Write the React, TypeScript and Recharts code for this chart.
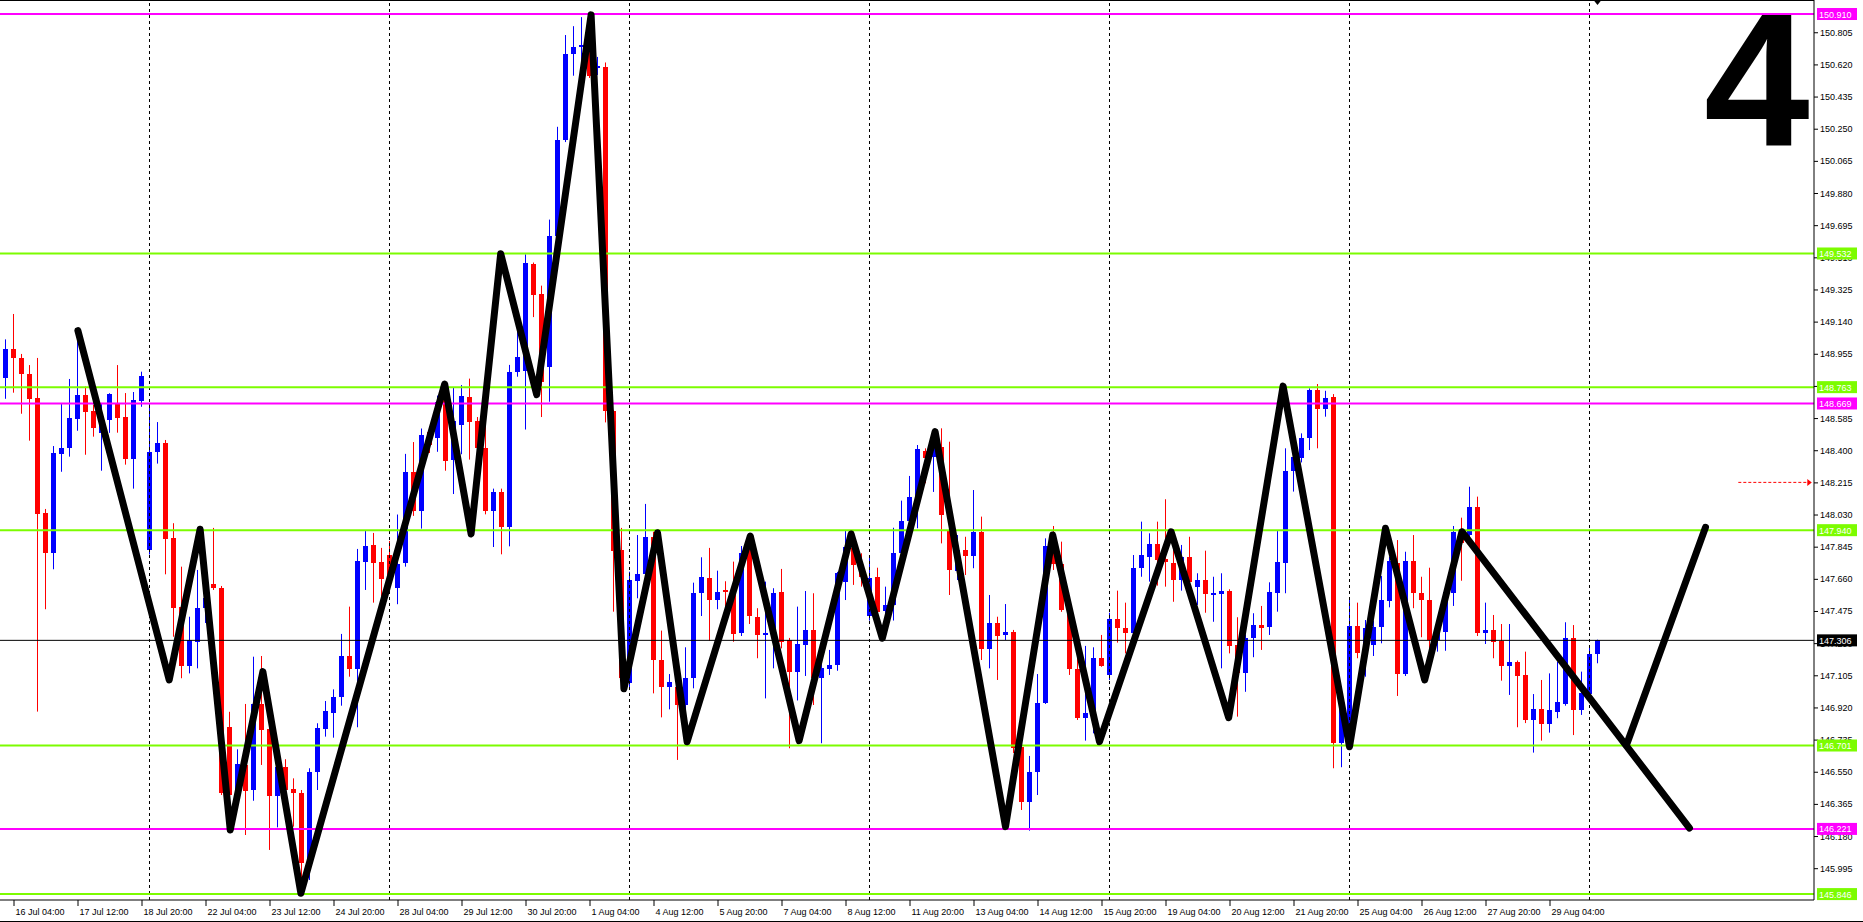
import React from 'react';
import { ComposedChart, Bar, Line, XAxis, YAxis, ReferenceLine, ReferenceDot } from 'recharts';

// H4 candles, bar 0 = 16 Jul 00:00
const OPEN = [
  148.817, 148.981, 148.929, 148.839, 148.700, 148.039, 147.807, 148.380, 148.415, 148.582,
  148.718, 148.627, 148.500, 148.574, 148.670, 148.591, 148.352, 148.685, 147.822, 148.390,
  148.442, 147.897, 147.500, 147.160, 147.298, 147.492, 147.630, 147.607, 146.809, 146.445,
  146.589, 146.441, 146.940, 146.794, 146.410, 146.576, 146.449, 146.426, 146.023, 146.546,
  146.794, 146.890, 146.978, 147.216, 147.143, 147.757, 147.852, 147.757, 147.797, 147.609,
  147.749, 148.275, 148.048, 148.505, 148.473, 148.730, 148.340, 148.545, 148.706, 148.566,
  148.412, 148.052, 148.159, 147.959, 148.850, 148.856, 149.474, 149.300, 148.880, 149.630,
  150.183, 150.678, 150.717, 150.720, 150.599, 150.606, 148.627, 147.826, 147.059, 147.649,
  147.688, 147.902, 147.193, 147.034, 147.039, 146.934, 147.088, 147.577, 147.663, 147.538,
  147.596, 147.615, 147.346, 147.836, 147.442, 147.341, 147.346, 147.586, 147.308, 147.126,
  147.279, 147.366, 147.088, 147.140, 147.164, 147.644, 147.836, 147.730, 147.442, 147.672,
  147.477, 147.510, 147.810, 147.995, 148.133, 148.397, 148.359, 148.420, 147.941, 147.707,
  147.826, 147.793, 147.929, 147.256, 147.408, 147.337, 147.354, 146.694, 146.378, 146.547,
  146.944, 147.883, 147.745, 147.481, 147.140, 146.858, 146.887, 147.203, 147.107, 147.427,
  147.375, 147.346, 147.721, 147.788, 147.860, 147.772, 147.753, 147.657, 147.788, 147.615,
  147.653, 147.571, 147.571, 147.588, 147.279, 147.116, 147.318, 147.394, 147.379, 147.580,
  147.753, 148.276, 148.353, 148.469, 148.747, 148.636, 148.705, 146.714, 146.714, 147.389,
  147.231, 147.279, 147.381, 147.534, 147.753, 147.112, 147.763, 147.580, 147.538, 147.312,
  147.356, 147.580, 147.941, 147.912, 148.075, 147.350, 147.366, 147.304, 147.158, 147.182,
  147.107, 146.848, 146.909, 146.825, 146.896, 146.944, 147.321, 146.905, 146.997, 147.227,
];
const HIGH = [
  149.038, 149.184, 148.954, 148.890, 148.931, 148.062, 148.424, 148.670, 148.810, 149.088,
  148.766, 148.660, 148.670, 148.728, 148.890, 148.729, 148.735, 148.852, 148.670, 148.562,
  148.459, 147.980, 147.730, 147.442, 147.711, 147.596, 147.953, 147.619, 146.895, 146.679,
  146.940, 147.212, 147.216, 146.800, 146.600, 146.622, 146.512, 146.445, 146.570, 146.829,
  146.957, 147.024, 147.343, 147.500, 147.832, 147.935, 147.924, 147.838, 147.878, 148.030,
  148.379, 148.447, 148.525, 148.528, 148.714, 148.771, 148.761, 148.775, 148.812, 148.591,
  148.576, 148.179, 148.179, 148.891, 149.080, 149.527, 149.480, 149.347, 149.727, 150.261,
  150.789, 150.840, 150.892, 150.910, 150.663, 150.631, 148.632, 147.953, 147.701, 147.912,
  148.091, 147.931, 147.362, 147.112, 147.060, 147.266, 147.638, 147.784, 147.838, 147.707,
  147.646, 147.759, 147.849, 147.912, 147.491, 147.644, 147.606, 147.717, 147.320, 147.500,
  147.590, 147.577, 147.170, 147.251, 147.700, 147.941, 147.931, 147.807, 147.784, 147.724,
  147.615, 147.954, 148.110, 148.252, 148.430, 148.411, 148.511, 148.526, 148.449, 147.912,
  147.902, 148.171, 148.018, 147.567, 147.442, 147.515, 147.366, 146.700, 146.641, 147.112,
  147.893, 147.964, 147.874, 147.500, 147.250, 147.274, 147.266, 147.337, 147.465, 147.592,
  147.523, 147.797, 147.989, 147.922, 147.989, 148.118, 147.940, 147.855, 147.902, 147.692,
  147.822, 147.672, 147.692, 147.600, 147.439, 147.340, 147.462, 147.504, 147.640, 147.935,
  148.411, 148.459, 148.497, 148.756, 148.781, 148.742, 148.723, 146.950, 147.538, 147.523,
  147.423, 147.420, 147.676, 147.787, 147.883, 147.816, 147.912, 147.672, 147.724, 147.420,
  147.620, 147.964, 148.012, 148.190, 148.133, 147.523, 147.452, 147.400, 147.400, 147.190,
  147.241, 146.997, 147.078, 147.116, 147.183, 147.410, 147.394, 147.126, 147.266, 147.310,
];
const LOW = [
  148.696, 148.731, 148.610, 148.455, 146.896, 147.485, 147.715, 148.276, 148.363, 148.512,
  148.374, 148.478, 148.282, 148.500, 148.501, 148.317, 148.179, 148.650, 147.800, 148.323,
  147.686, 147.327, 147.088, 147.116, 147.145, 147.406, 147.596, 146.416, 146.215, 146.349,
  146.186, 146.383, 146.589, 146.100, 146.230, 146.430, 146.234, 145.851, 145.927, 146.445,
  146.752, 146.746, 146.930, 147.097, 146.806, 147.596, 147.523, 147.557, 147.625, 147.514,
  147.730, 148.022, 147.949, 148.384, 148.391, 148.282, 148.148, 148.377, 148.346, 148.320,
  148.031, 147.843, 147.801, 147.847, 148.823, 148.519, 149.166, 148.591, 148.679, 149.600,
  150.173, 150.555, 150.600, 150.542, 150.559, 148.560, 147.471, 147.032, 147.020, 147.548,
  147.670, 147.001, 146.863, 146.909, 146.618, 146.715, 147.030, 147.446, 147.304, 147.485,
  147.500, 147.298, 147.331, 147.400, 147.203, 146.972, 147.145, 147.260, 146.685, 146.960,
  147.101, 146.934, 146.714, 147.107, 147.131, 147.538, 147.625, 147.615, 147.420, 147.423,
  147.327, 147.420, 147.768, 147.931, 147.951, 148.210, 148.160, 147.864, 147.567, 147.653,
  147.682, 147.721, 147.193, 147.145, 147.078, 147.308, 146.658, 146.330, 146.211, 146.416,
  146.940, 147.711, 147.470, 147.107, 146.848, 146.729, 146.771, 147.154, 147.078, 147.293,
  147.231, 147.327, 147.672, 147.644, 147.621, 147.615, 147.528, 147.592, 147.635, 147.510,
  147.465, 147.413, 147.145, 147.231, 146.867, 147.010, 147.209, 147.251, 147.337, 147.471,
  147.577, 148.162, 148.330, 148.401, 148.411, 148.593, 146.570, 146.576, 146.685, 147.203,
  147.097, 147.216, 147.289, 147.496, 146.986, 147.101, 147.491, 147.324, 147.212, 147.241,
  147.246, 147.504, 147.649, 147.880, 147.331, 147.285, 147.203, 147.074, 146.992, 146.806,
  146.830, 146.660, 146.729, 146.775, 146.858, 146.930, 146.761, 146.877, 146.980, 147.174,
];
const CLOSE = [
  148.981, 148.927, 148.835, 148.696, 148.035, 147.807, 148.382, 148.413, 148.585, 148.718,
  148.622, 148.530, 148.580, 148.722, 148.582, 148.352, 148.689, 148.827, 148.388, 148.442,
  147.891, 147.496, 147.160, 147.308, 147.491, 147.550, 147.609, 146.426, 146.416, 146.595,
  146.441, 146.938, 146.790, 146.410, 146.576, 146.441, 146.426, 146.023, 146.548, 146.800,
  146.899, 146.980, 147.216, 147.143, 147.763, 147.851, 147.751, 147.658, 147.682, 147.745,
  148.275, 148.048, 148.488, 148.430, 148.679, 148.340, 148.566, 148.710, 148.560, 148.412,
  148.052, 148.159, 147.959, 148.850, 148.936, 149.480, 149.296, 148.793, 149.634, 150.185,
  150.678, 150.720, 150.729, 150.553, 150.611, 148.627, 147.822, 147.090, 147.653, 147.688,
  147.902, 147.193, 147.039, 147.065, 146.934, 147.088, 147.577, 147.669, 147.538, 147.586,
  147.586, 147.346, 147.807, 147.442, 147.337, 147.350, 147.580, 147.298, 147.126, 147.285,
  147.366, 147.088, 147.145, 147.164, 147.692, 147.845, 147.740, 147.672, 147.663, 147.471,
  147.510, 147.810, 147.995, 148.133, 148.405, 148.359, 148.413, 148.027, 147.711, 147.826,
  147.793, 147.929, 147.256, 147.408, 147.331, 147.354, 146.685, 146.378, 146.550, 146.944,
  147.849, 147.745, 147.481, 147.140, 146.858, 146.887, 147.203, 147.158, 147.427, 147.375,
  147.346, 147.721, 147.797, 147.860, 147.768, 147.753, 147.657, 147.788, 147.644, 147.653,
  147.571, 147.580, 147.588, 147.274, 147.116, 147.318, 147.394, 147.379, 147.582, 147.759,
  148.280, 148.359, 148.469, 148.747, 148.636, 148.699, 146.714, 146.924, 147.389, 147.231,
  147.377, 147.385, 147.538, 147.764, 147.116, 147.763, 147.577, 147.542, 147.308, 147.385,
  147.586, 147.931, 147.865, 148.075, 147.350, 147.366, 147.298, 147.158, 147.180, 147.101,
  146.848, 146.909, 146.825, 146.905, 146.953, 147.321, 146.905, 147.001, 147.227, 147.306,
];

const TIME_TICKS = [1, 9, 17, 25, 33, 41, 49, 57, 65, 73, 81, 89, 97, 105, 113, 121, 129, 137, 145, 153, 161, 169, 177, 185, 193];
const TIME_LABELS = [
  '16 Jul 04:00', '17 Jul 12:00', '18 Jul 20:00', '22 Jul 04:00', '23 Jul 12:00', '24 Jul 20:00',
  '28 Jul 04:00', '29 Jul 12:00', '30 Jul 20:00', '1 Aug 04:00', '4 Aug 12:00', '5 Aug 20:00',
  '7 Aug 04:00', '8 Aug 12:00', '11 Aug 20:00', '13 Aug 04:00', '14 Aug 12:00', '15 Aug 20:00',
  '19 Aug 04:00', '20 Aug 12:00', '21 Aug 20:00', '25 Aug 04:00', '26 Aug 12:00', '27 Aug 20:00',
  '29 Aug 04:00',
];
const PRICE_TICKS = [
  150.805, 150.620, 150.435, 150.250, 150.065, 149.880, 149.695, 149.510, 149.325, 149.140,
  148.955, 148.770, 148.585, 148.400, 148.215, 148.030, 147.845, 147.660, 147.475, 147.290,
  147.105, 146.920, 146.735, 146.550, 146.365, 146.180, 145.995,
];
const GRID_BARS = [18, 48, 78, 108, 138, 168, 198];

const GREEN_LEVELS = [149.532, 148.763, 147.940, 146.701, 145.846];
const MAGENTA_LEVELS = [150.910, 148.669, 146.221];
const LAST_PRICE = 147.306;
const ALERT_PRICE = 148.215;
const CHART_NUMBER = '4';

// zigzag swing points (bar position, price)
const ZIGZAG_X = [9.05, 20.46, 24.33, 28.09, 32.17, 36.92, 54.9, 58.2, 61.9, 66.4, 73.2, 77.3, 81.5, 85.2, 93.1, 99.2, 105.7, 109.6, 116.2, 125.0, 130.9, 136.75, 145.7, 152.9, 159.7, 168.0, 172.5, 177.4, 182.05, 210.5];
const ZIGZAG_Y = [149.088, 147.078, 147.945, 146.215, 147.126, 145.851, 148.781, 147.918, 149.531, 148.720, 150.905, 147.028, 147.925, 146.723, 147.906, 146.729, 147.918, 147.318, 148.507, 146.234, 147.912, 146.723, 147.931, 146.861, 148.769, 146.694, 147.951, 147.078, 147.931, 146.226];
const PROJECTION_X = [202.7, 212.5];
const PROJECTION_Y = [146.714, 147.956];

const candles = OPEN.map((o, i) => ({ x: i, open: o, high: HIGH[i], low: LOW[i], close: CLOSE[i] }));
const zigzag = ZIGZAG_X.map((x, i) => ({ x, y: ZIGZAG_Y[i] }));
const projection = PROJECTION_X.map((x, i) => ({ x, y: PROJECTION_Y[i] }));

const FONT = '"Liberation Sans", Arial, sans-serif';
const GREEN = '#7cfc00';
const MAGENTA = '#ff00ff';
const UP = '#0000ff';
const DOWN = '#ff0000';

// level tags go last so they are painted over the plain price labels
const AXIS_TICKS = [...PRICE_TICKS, LAST_PRICE, ...GREEN_LEVELS, ...MAGENTA_LEVELS];
const tagColor = (v: number) => {
  if (v === LAST_PRICE) return '#000';
  if (GREEN_LEVELS.includes(v)) return GREEN;
  if (MAGENTA_LEVELS.includes(v)) return MAGENTA;
  return null;
};

const Candle = (props: any) => {
  const { x, y, width, height, payload } = props;
  if (x == null || y == null) return null;
  const top = Math.min(y, y + height);
  const h = Math.abs(height);
  const { open, close, high, low } = payload;
  const ppu = high - low > 0 ? h / (high - low) : 0;
  const cx = Math.round(x + width / 2) + 0.5;
  const yo = top + (high - open) * ppu;
  const yc = top + (high - close) * ppu;
  const color = close >= open ? UP : DOWN;
  const bTop = Math.round(Math.min(yo, yc));
  const bH = Math.max(1, Math.round(Math.abs(yo - yc)));
  return (
    <g>
      <line x1={cx} x2={cx} y1={top} y2={top + h} stroke={color} strokeWidth={1} />
      <rect x={cx - 2.5} y={bTop} width={5} height={bH} fill={color} />
    </g>
  );
};

const TimeTick = (props: any) => {
  const { x, y, payload } = props;
  const idx = TIME_TICKS.indexOf(payload.value);
  return (
    <g>
      <line x1={x + 0.5} x2={x + 0.5} y1={y} y2={y + 6} stroke="#000" />
      <text x={x + 2} y={y + 15} fontSize={9} fontFamily={FONT} fill="#000" textAnchor="start">
        {TIME_LABELS[idx]}
      </text>
    </g>
  );
};

const PriceTick = (props: any) => {
  const { x, y, payload } = props;
  const v = payload.value as number;
  const bg = tagColor(v);
  if (bg) {
    return (
      <g>
        <rect x={x + 3} y={y - 6} width={40} height={12} fill={bg} />
        <text x={x + 5} y={y + 3.5} fontSize={9} fontFamily={FONT} fill="#fff">
          {v.toFixed(3)}
        </text>
      </g>
    );
  }
  return (
    <g>
      <line x1={x} x2={x + 4} y1={y + 0.5} y2={y + 0.5} stroke="#000" />
      <text x={x + 6} y={y + 3.5} fontSize={9} fontFamily={FONT} fill="#000">
        {v.toFixed(3)}
      </text>
    </g>
  );
};

export default function App() {
  return (
    <div style={{ position: 'absolute', left: 0, top: 0, width: 1863, height: 922, background: '#fff', overflow: 'hidden' }}>
      <ComposedChart
        width={1863}
        height={922}
        data={candles}
        margin={{ top: 0, right: 0, bottom: 0, left: 0 }}
      >
        <XAxis
          dataKey="x"
          type="number"
          domain={[-0.6875, 226.0625]}
          allowDataOverflow
          ticks={TIME_TICKS}
          interval={0}
          height={22}
          tickSize={0}
          tickMargin={0}
          tickLine={false}
          axisLine={{ stroke: '#000' }}
          tick={<TimeTick />}
        />
        <YAxis
          orientation="right"
          type="number"
          domain={[145.812, 150.9906]}
          allowDataOverflow
          ticks={AXIS_TICKS}
          interval={0}
          width={49}
          tickSize={0}
          tickMargin={0}
          tickLine={false}
          axisLine={{ stroke: '#000' }}
          tick={<PriceTick />}
        />

        {GRID_BARS.map((b) => (
          <ReferenceLine key={'g' + b} x={b} stroke="#000" strokeDasharray="3 3" strokeWidth={1} />
        ))}

        <Bar
          dataKey={(d: any) => [d.low, d.high]}
          barSize={5}
          shape={<Candle />}
          isAnimationActive={false}
        />

        <ReferenceLine y={LAST_PRICE} stroke="#000" strokeWidth={1} />
        {GREEN_LEVELS.map((v) => (
          <ReferenceLine key={'gr' + v} y={v} stroke={GREEN} strokeWidth={2} />
        ))}
        {MAGENTA_LEVELS.map((v) => (
          <ReferenceLine key={'mg' + v} y={v} stroke={MAGENTA} strokeWidth={2} />
        ))}

        <ReferenceLine
          segment={[{ x: 216.6, y: ALERT_PRICE }, { x: 225.4, y: ALERT_PRICE }]}
          stroke={DOWN}
          strokeDasharray="3 2"
          strokeWidth={1}
        />
        <ReferenceDot
          x={225.6}
          y={ALERT_PRICE}
          shape={(p: any) => (
            <path d={`M${p.cx - 3},${p.cy - 3.5} L${p.cx + 1.5},${p.cy} L${p.cx - 3},${p.cy + 3.5} Z`} fill={DOWN} />
          )}
        />
        <ReferenceDot
          x={199}
          y={150.99}
          shape={(p: any) => (
            <path d={`M${p.cx - 4},${p.cy} L${p.cx + 4},${p.cy} L${p.cx},${p.cy + 5} Z`} fill="#000" />
          )}
        />

        <Line
          data={zigzag}
          dataKey="y"
          type="linear"
          stroke="#000"
          strokeWidth={7}
          strokeLinejoin="round"
          strokeLinecap="round"
          dot={false}
          activeDot={false}
          isAnimationActive={false}
        />
        <Line
          data={projection}
          dataKey="y"
          type="linear"
          stroke="#000"
          strokeWidth={7}
          strokeLinejoin="round"
          strokeLinecap="round"
          dot={false}
          activeDot={false}
          isAnimationActive={false}
        />
      </ComposedChart>

      <div style={{ position: 'absolute', left: 0, top: 0, width: 1814, height: 1, background: '#000' }} />
      <div style={{ position: 'absolute', left: 0, top: 921, width: 1863, height: 1, background: '#000' }} />
      <div
        style={{
          position: 'absolute',
          left: 1704,
          top: 10,
          fontFamily: FONT,
          fontWeight: 'bold',
          fontSize: 190,
          lineHeight: '140px',
          color: '#000',
          pointerEvents: 'none',
        }}
      >
        {CHART_NUMBER}
      </div>
    </div>
  );
}
